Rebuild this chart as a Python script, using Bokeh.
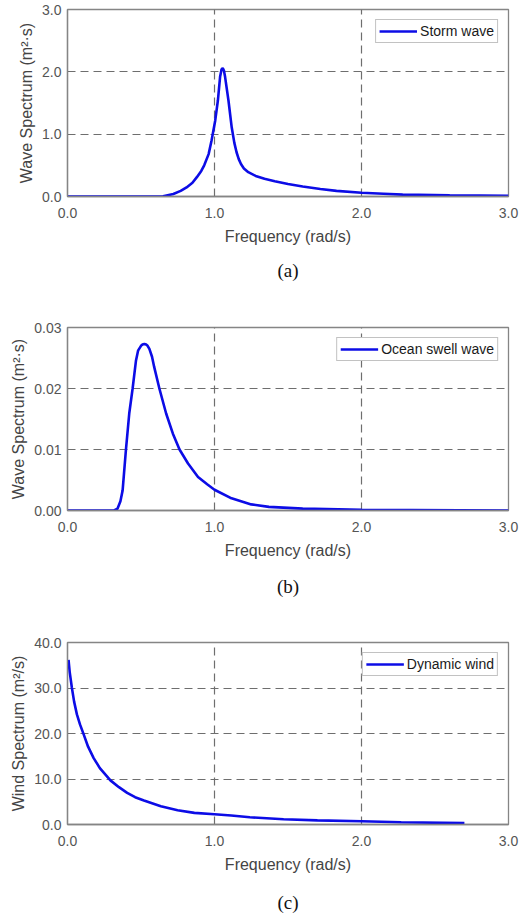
from bokeh.plotting import figure
from bokeh.layouts import column
from bokeh.models import Range1d, FixedTicker, Title
from bokeh.embed import file_html
from bokeh.resources import INLINE

# ---------------- data ----------------
storm_x = [0.0, 0.59, 0.65, 0.72, 0.77, 0.81, 0.85, 0.88, 0.91, 0.93, 0.96, 0.98,
           1.005, 1.023, 1.038, 1.048, 1.056, 1.064, 1.072, 1.095, 1.117, 1.135,
           1.15, 1.165, 1.18, 1.2, 1.23, 1.28, 1.34, 1.41, 1.5, 1.6, 1.72, 1.83,
           2.0, 2.15, 2.28, 2.6, 3.0]
storm_y = [0.0, 0.0, 0.005, 0.04, 0.09, 0.145, 0.22, 0.31, 0.41, 0.50, 0.68, 0.9,
           1.22, 1.54, 1.92, 2.04, 2.06, 2.02, 1.92, 1.54, 1.11, 0.86,
           0.71, 0.60, 0.52, 0.45, 0.39, 0.33, 0.285, 0.245, 0.2, 0.16, 0.12, 0.09,
           0.06, 0.045, 0.03, 0.018, 0.01]

swell_x = [0.0, 0.317, 0.34, 0.36, 0.375, 0.397, 0.42, 0.443, 0.466, 0.48, 0.50,
           0.51, 0.523, 0.535, 0.545, 0.557, 0.575, 0.59, 0.625, 0.671, 0.717,
           0.762, 0.82, 0.888, 0.95, 1.0, 1.116, 1.25, 1.37, 1.6, 2.0, 3.0]
swell_y = [0.0, 0.0, 0.0003, 0.0015, 0.0033, 0.0098, 0.0159, 0.020, 0.0246, 0.0262,
           0.0270, 0.0272, 0.0273, 0.0272, 0.0270, 0.0265, 0.0252, 0.0235, 0.020,
           0.0159, 0.0126, 0.010, 0.0077, 0.0055, 0.0043, 0.0034, 0.002, 0.001,
           0.0006, 0.0003, 0.0001, 0.0]

wind_x = [0.007, 0.015, 0.03, 0.045, 0.064, 0.085, 0.11, 0.14, 0.178, 0.22, 0.292,
          0.35, 0.406, 0.46, 0.52, 0.635, 0.749, 0.863, 1.0, 1.114, 1.24, 1.47,
          1.70, 2.0, 2.27, 2.70]
wind_y = [36.2, 33.5, 30.0, 27.0, 24.2, 22.0, 19.8, 17.1, 14.6, 12.4, 9.7,
          8.2, 6.95, 6.0, 5.27, 4.0, 3.14, 2.56, 2.25, 1.97, 1.6, 1.15,
          0.9, 0.7, 0.5, 0.3]

x_ticks = [0, 1, 2, 3]
x_tick_labels = ["0.0", "1.0", "2.0", "3.0"]
a_y_ticks = [0, 1, 2, 3]
a_y_tick_labels = ["0.0", "1.0", "2.0", "3.0"]
b_y_ticks = [0.0, 0.01, 0.02, 0.03]
b_y_tick_labels = ["0.00", "0.01", "0.02", "0.03"]
c_y_ticks = [0, 10, 20, 30, 40]
c_y_tick_labels = ["0.0", "10.0", "20.0", "30.0", "40.0"]

FONT = "Liberation Sans"
GRAY = "#858585"


def panel(xs, ys, legend, ylabel, yticks, ylabels, ymax, caption,
          top, fh, bottom, cap_standoff):
    p = figure(output_backend="svg", toolbar_location=None,
               frame_width=441, frame_height=fh,
               min_border_left=67, min_border_top=top,
               min_border_right=11, min_border_bottom=bottom,
               x_range=Range1d(0, 3), y_range=Range1d(0, ymax))
    p.background_fill_color = "white"
    p.border_fill_color = "white"
    p.outline_line_color = GRAY
    p.outline_line_width = 1.3

    p.line(xs, ys, line_color="#0c0ce6", line_width=2.6, legend_label=legend)

    for ax in (p.xaxis[0], p.yaxis[0]):
        ax.axis_line_color = GRAY
        ax.axis_line_width = 1.3
        ax.major_tick_in = 0
        ax.major_tick_out = 0
        ax.minor_tick_in = 0
        ax.minor_tick_out = 0
        ax.major_label_text_font = FONT
        ax.major_label_text_font_size = "14px"
        ax.major_label_text_color = "#555555"
        ax.axis_label_text_font = FONT
        ax.axis_label_text_font_size = "16px"
        ax.axis_label_text_font_style = "normal"
        ax.axis_label_text_color = "#444444"

    p.xaxis.ticker = FixedTicker(ticks=x_ticks)
    p.xaxis.major_label_overrides = dict(zip(x_ticks, x_tick_labels))
    p.xaxis.axis_label = "Frequency (rad/s)"
    p.xaxis.major_label_standoff = 11
    p.xaxis.axis_label_standoff = 7

    p.yaxis.ticker = FixedTicker(ticks=yticks)
    p.yaxis.major_label_overrides = dict(zip(yticks, ylabels))
    p.yaxis.axis_label = ylabel
    p.yaxis.major_label_standoff = 6
    p.yaxis.axis_label_standoff = 4

    p.xgrid.ticker = FixedTicker(ticks=x_ticks[1:-1])
    p.ygrid.ticker = FixedTicker(ticks=yticks[1:-1])
    for g in (p.xgrid[0], p.ygrid[0]):
        g.grid_line_color = "#6e6e6e"
        g.grid_line_width = 1.2
        g.grid_line_dash = "8 5"

    lg = p.legend[0]
    lg.location = "top_right"
    lg.margin = 10
    lg.padding = 3
    lg.spacing = 0
    lg.glyph_width = 38
    lg.glyph_height = 16
    lg.label_height = 16
    lg.label_standoff = 3
    lg.label_text_font = FONT
    lg.label_text_font_size = "14px"
    lg.label_text_color = "#1a1a1a"
    lg.border_line_color = GRAY
    lg.border_line_width = 1.2
    lg.background_fill_color = "white"
    lg.background_fill_alpha = 1.0

    cap = Title(text=caption, align="center", text_font="Liberation Serif",
                text_font_size="19px", text_font_style="normal",
                text_color="#111111", standoff=cap_standoff)
    p.add_layout(cap, "below")
    return p


pa = panel(storm_x, storm_y, "Storm wave", "Wave Spectrum (m²·s)",
           a_y_ticks, a_y_tick_labels, 3, "(a)",
           top=9, fh=187, bottom=121, cap_standoff=21)
pb = panel(swell_x, swell_y, "Ocean swell wave", "Wave Spectrum (m²·s)",
           b_y_ticks, b_y_tick_labels, 0.03, "(b)",
           top=10, fh=183, bottom=122, cap_standoff=25)
pc = panel(wind_x, wind_y, "Dynamic wind", "Wind Spectrum (m²/s)",
           c_y_ticks, c_y_tick_labels, 40, "(c)",
           top=10, fh=182, bottom=94, cap_standoff=28)

layout = column(pa, pb, pc, spacing=0)
open("out.html", "w").write(file_html(layout, INLINE))
